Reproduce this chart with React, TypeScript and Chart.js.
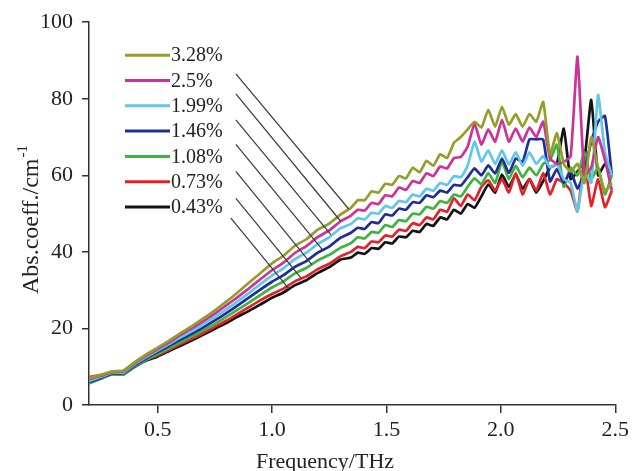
import React, { useEffect, useRef } from "react";
import { Chart, registerables } from "chart.js";

Chart.register(...registerables);

// Frequency grid (THz)
const freq = [
  0.2, 0.25, 0.3, 0.35, 0.4, 0.45, 0.5, 0.55, 0.6, 0.65, 0.7, 0.75, 0.8, 0.85, 0.9, 0.95, 1.0, 1.05, 1.1, 1.15, 1.2, 1.25, 1.3,
  1.345, 1.375, 1.405, 1.435, 1.465, 1.495, 1.525, 1.555, 1.585, 1.615, 1.645, 1.675, 1.705, 1.735, 1.765, 1.795, 1.825,
  1.855, 1.885, 1.915, 1.945, 1.975, 2.005, 2.035, 2.065, 2.095, 2.125, 2.155, 2.185, 2.215, 2.245, 2.275, 2.305, 2.335,
  2.365, 2.395, 2.425, 2.455, 2.485,
];

// Absorption coefficient (cm^-1) per concentration
const s328 = [
  7.0, 7.8, 8.8, 9.0, 11.2, 13.2, 15.0, 16.8, 18.8, 20.6, 22.6, 24.7, 27.0, 29.4, 32.0, 34.5, 37.0, 39.0, 41.6, 43.3, 45.8, 47.4, 49.8,
  51.5, 53.5, 53.5, 55.8, 55.5, 57.8, 57.5, 59.8, 59.2, 62.0, 60.8, 63.8, 62.5, 65.5, 64.5, 68.5, 70.0, 72.0, 74.0, 72.5,
  77.1, 72.7, 77.9, 73.2, 76.0, 72.7, 76.0, 74.0, 79.2, 65.5, 71.0, 63.0, 61.0, 63.0, 58.0, 70.0, 62.0, 56.0, 58.0,
];
const s250 = [
  6.8, 7.6, 8.6, 8.8, 11.0, 12.9, 14.6, 16.4, 18.3, 20.0, 21.9, 23.9, 26.0, 28.2, 30.5, 32.9, 35.2, 37.2, 39.7, 41.5, 43.9, 45.6, 48.0,
  49.5, 51.0, 50.8, 52.8, 52.5, 54.8, 54.5, 56.8, 56.2, 58.5, 58.0, 60.5, 59.8, 62.3, 61.8, 64.5, 64.8, 67.5, 73.5, 68.0,
  72.0, 68.8, 74.5, 68.8, 72.2, 68.8, 72.5, 70.0, 74.0, 64.4, 63.0, 63.5, 65.0, 91.0, 60.0, 62.0, 70.0, 64.0, 56.0,
];
const s199 = [
  6.3, 7.3, 8.4, 8.5, 10.7, 12.5, 14.2, 15.9, 17.7, 19.3, 21.1, 23.0, 25.0, 27.1, 29.3, 31.6, 33.8, 35.7, 38.1, 39.8, 42.1, 43.8, 46.2,
  47.3, 48.8, 48.5, 50.2, 50.0, 52.0, 51.5, 53.3, 53.0, 55.0, 54.5, 56.5, 56.0, 58.0, 57.5, 59.8, 59.5, 62.5, 68.8, 63.6,
  66.5, 63.0, 66.5, 62.8, 66.0, 62.5, 66.0, 63.0, 65.0, 62.0, 63.0, 59.0, 58.0, 50.6, 61.0, 58.0, 81.0, 66.0, 60.0,
];
const s146 = [
  6.0, 7.0, 8.2, 8.3, 10.4, 12.2, 13.8, 15.4, 17.1, 18.6, 20.3, 22.1, 24.0, 26.0, 28.1, 30.2, 32.2, 33.9, 36.1, 37.6, 39.8, 41.4, 43.7,
  45.0, 46.3, 46.0, 47.8, 47.5, 49.8, 49.5, 51.3, 51.0, 53.0, 52.8, 54.8, 54.3, 56.0, 55.5, 57.5, 57.3, 59.5, 61.8, 60.0,
  62.6, 60.5, 64.4, 60.6, 64.4, 63.5, 69.4, 69.4, 69.4, 58.4, 61.6, 58.0, 61.0, 56.5, 61.0, 68.8, 74.0, 75.5, 60.0,
];
const s108 = [
  5.6, 6.8, 8.0, 8.0, 10.1, 11.8, 13.3, 14.8, 16.4, 17.9, 19.5, 21.2, 23.0, 24.9, 26.8, 28.8, 30.7, 32.3, 34.4, 35.8, 37.8, 39.2, 41.1,
  42.3, 43.8, 43.5, 45.2, 45.0, 47.0, 46.5, 48.3, 48.0, 50.0, 49.8, 51.8, 51.3, 53.3, 52.8, 55.0, 54.5, 57.0, 59.2, 57.6,
  60.6, 58.0, 63.6, 59.0, 62.5, 59.5, 62.0, 60.0, 63.0, 64.0, 68.0, 57.0, 62.0, 60.0, 66.0, 59.0, 62.0, 55.0, 60.0,
];
const s073 = [
  7.3, 7.8, 8.4, 8.2, 10.2, 11.8, 13.0, 14.4, 15.9, 17.3, 18.8, 20.4, 22.0, 23.8, 25.6, 27.4, 29.0, 30.4, 32.3, 33.6, 35.5, 36.9, 38.9,
  40.0, 41.3, 41.0, 42.7, 42.5, 44.3, 44.0, 45.8, 45.5, 47.5, 47.0, 49.0, 48.5, 51.0, 50.5, 54.0, 52.0, 55.0, 53.5, 57.0,
  58.7, 56.0, 59.0, 55.5, 60.6, 55.0, 59.0, 56.0, 60.6, 55.0, 59.0, 58.0, 56.0, 50.6, 64.0, 52.0, 59.0, 51.7, 56.0,
];
const s043 = [
  6.5, 7.2, 8.1, 8.0, 10.0, 11.6, 12.7, 14.1, 15.5, 16.9, 18.4, 19.9, 21.4, 23.1, 24.6, 26.3, 28.0, 29.4, 31.3, 32.6, 34.5, 36.0, 38.0,
  38.5, 39.8, 39.5, 41.0, 40.8, 42.5, 42.2, 44.0, 43.8, 45.5, 45.2, 47.3, 46.8, 49.0, 48.5, 51.0, 50.0, 52.5, 51.5, 54.5,
  57.6, 55.5, 60.2, 57.0, 60.2, 56.5, 59.0, 55.5, 58.5, 62.0, 63.0, 72.2, 59.0, 61.0, 64.0, 79.7, 60.0, 63.0, 60.0,
];

const seriesLabels = ["3.28%", "2.5%", "1.99%", "1.46%", "1.08%", "0.73%", "0.43%"];
const seriesValues = [s328, s250, s199, s146, s108, s073, s043];
const seriesColors = ["#969d2a", "#cc3399", "#62c6e8", "#1f2d96", "#3fb33f", "#e3212b", "#141414"];

// Leader lines from legend to curves (data coordinates)
const leaderStartX = [0.842, 0.842, 0.842, 0.842, 0.842, 0.842, 0.82];
const leaderStartY = [86.5, 81.3, 74.5, 68.1, 61.0, 54.0, 48.8];
const leaderEndX = [1.335, 1.3, 1.257, 1.22, 1.174, 1.126, 1.073];
const leaderEndY = [51.2, 48.0, 44.5, 40.6, 36.7, 33.2, 30.4];

const xTicks = [0.5, 1.0, 1.5, 2.0, 2.5];
const yTicks = [0, 20, 40, 60, 80, 100];

const SERIF = '"Liberation Serif", "DejaVu Serif", serif';

const annotationPlugin = {
  id: "annotations",
  afterDraw(chart: any) {
    const ctx = chart.ctx;
    const area = chart.chartArea;
    ctx.save();
    // Legend
    ctx.font = `20px ${SERIF}`;
    ctx.textBaseline = "middle";
    ctx.textAlign = "left";
    for (let i = 0; i < seriesLabels.length; i++) {
      const y = area.top + 33 + i * 25.3;
      ctx.strokeStyle = seriesColors[i];
      ctx.lineWidth = 3;
      ctx.beginPath();
      ctx.moveTo(area.left + 36, y);
      ctx.lineTo(area.left + 81, y);
      ctx.stroke();
      ctx.fillStyle = "#222";
      ctx.fillText(seriesLabels[i], area.left + 82, y + 1);
    }
    // X axis title
    ctx.font = `22px ${SERIF}`;
    ctx.textAlign = "center";
    ctx.textBaseline = "alphabetic";
    ctx.fillStyle = "#222";
    ctx.fillText("Frequency/THz", 325, 468);
    // Y axis title with superscript
    const main = "Abs.coeff./cm";
    const sup = "-1";
    ctx.font = `24px ${SERIF}`;
    const wMain = ctx.measureText(main).width;
    ctx.font = `15px ${SERIF}`;
    const wSup = ctx.measureText(sup).width;
    const total = wMain + wSup;
    ctx.translate(38, 220);
    ctx.rotate(-Math.PI / 2);
    ctx.textAlign = "left";
    ctx.font = `24px ${SERIF}`;
    ctx.fillText(main, -total / 2, 0);
    ctx.font = `15px ${SERIF}`;
    ctx.fillText(sup, -total / 2 + wMain + 1, -11);
    ctx.restore();
  },
};

export default function App() {
  const ref = useRef<HTMLCanvasElement | null>(null);

  useEffect(() => {
    if (!ref.current) return;
    const curveSets = seriesValues.map((vals, i) => ({
      label: seriesLabels[i],
      data: freq.map((f, j) => ({ x: f, y: vals[j] })),
      borderColor: seriesColors[i],
      borderWidth: 2.7,
      pointRadius: 0,
      tension: 0.15,
      fill: false,
      order: 1,
    }));
    const leaderSets = leaderStartX.map((sx, i) => ({
      label: "leader" + i,
      data: [
        { x: sx, y: leaderStartY[i] },
        { x: leaderEndX[i], y: leaderEndY[i] },
      ],
      borderColor: "#3a3a3a",
      borderWidth: 1.2,
      pointRadius: 0,
      tension: 0,
      fill: false,
      order: -1,
    }));

    const chart = new Chart(ref.current, {
      type: "line",
      data: { datasets: [...curveSets, ...leaderSets] as any },
      options: {
        responsive: false,
        animation: false,
        layout: { padding: { top: 20, right: 16, bottom: 0, left: 0 } },
        plugins: { legend: { display: false }, tooltip: { enabled: false } },
        scales: {
          x: {
            type: "linear",
            min: 0.2,
            max: 2.5,
            afterBuildTicks: (s: any) => {
              s.ticks = xTicks.map((v) => ({ value: v }));
            },
            afterFit: (s: any) => {
              s.height = 66;
            },
            grid: { drawOnChartArea: false, drawTicks: true, tickLength: 8, color: "#333", lineWidth: 1.5 },
            border: { display: true, color: "#333", width: 1.5 },
            ticks: {
              color: "#222",
              font: { family: SERIF, size: 22 },
              padding: 4,
              maxRotation: 0,
              callback: (v: any) => Number(v).toFixed(1),
            },
          },
          y: {
            min: 0,
            max: 100,
            afterBuildTicks: (s: any) => {
              s.ticks = yTicks.map((v) => ({ value: v }));
            },
            afterFit: (s: any) => {
              s.width = 89;
            },
            grid: { drawOnChartArea: false, drawTicks: true, tickLength: 7, color: "#333", lineWidth: 1.5 },
            border: { display: true, color: "#333", width: 1.5 },
            ticks: {
              color: "#222",
              font: { family: SERIF, size: 22 },
              padding: 9,
            },
          },
        },
      },
      plugins: [annotationPlugin],
    });
    return () => chart.destroy();
  }, []);

  return (
    <div style={{ position: "absolute", left: 0, top: 0, width: 633, height: 471, background: "#fff" }}>
      <canvas ref={ref} width={633} height={471} style={{ display: "block" }} />
    </div>
  );
}
